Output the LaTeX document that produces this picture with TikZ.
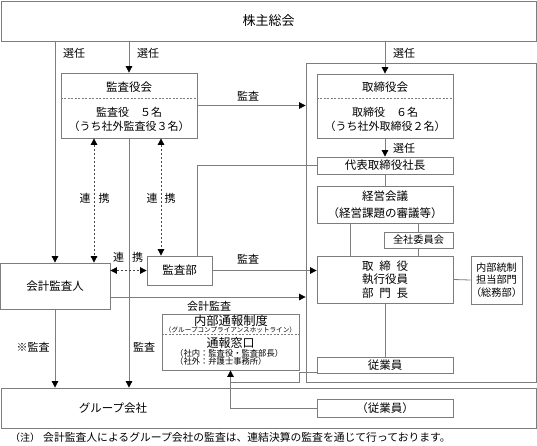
\documentclass[tikz,border=0pt]{standalone}
\usepackage{fontspec}
\setmainfont{Noto Sans CJK JP}
\usetikzlibrary{arrows.meta,calc}
\definecolor{ln}{RGB}{125,125,125}
\definecolor{dk}{RGB}{70,70,70}
\tikzset{
  box/.style={draw=ln, line width=0.8pt, rectangle, inner sep=0pt, align=center, font=\fontsize{11.5}{13.5}\selectfont},
  conn/.style={draw=ln, line width=0.8pt},
  arr/.style={conn, -{Triangle[width=6.5pt,length=6.5pt,color=black]}},
  darr/.style={draw=dk, line width=0.8pt, dash pattern=on 2pt off 2pt, {Triangle[width=6.5pt,length=6.5pt,color=black]}-{Triangle[width=6.5pt,length=6.5pt,color=black]}},
  lbl/.style={inner sep=0pt, font=\fontsize{11}{13}\selectfont},
  sepline/.style={draw=ln, line width=0.8pt, dash pattern=on 2pt off 1.5pt},
}
\begin{document}
\begin{tikzpicture}[x=1pt,y=-1pt]
\useasboundingbox (0,0) rectangle (537,445);
\fill[white] (0,0) rectangle (537,445);

% boxes
\node[box, minimum width=535, minimum height=40, font=\fontsize{13}{15}\selectfont] (sh) at (268.5,21) {株主総会};
\node[box, minimum width=230, minimum height=319] (outer) at (421,222.5) {};
\node[box, minimum width=136, minimum height=65] (kyk) at (129,105.5) {};
\node[box, minimum width=136, minimum height=64] (tk) at (385,106) {};
\node[box, minimum width=136, minimum height=17] (dai) at (385,165.5) {代表取締役社長};
\node[box, minimum width=136, minimum height=37, font=\fontsize{11.5}{17.5}\selectfont] (keiei) at (385,204.5) {経営会議\\（経営課題の審議等）};
\node[box, minimum width=69, minimum height=16, font=\fontsize{10.2}{12}\selectfont] (zensha) at (418.5,240) {全社委員会};
\node[box, minimum width=136, minimum height=47, font=\fontsize{11.5}{13.5}\selectfont] (tori) at (385,279.5) {取\kern0.5em 締\kern0.5em 役\\執行役員\\部\kern0.5em 門\kern0.5em 長};
\node[box, minimum width=49, minimum height=48, font=\fontsize{10.2}{12.7}\selectfont] (naibu) at (496.5,280) {内部統制\\担当部門\\（総務部）};
\node[box, minimum width=136, minimum height=16] (jugyo) at (385,365) {従業員};
\node[box, minimum width=110, minimum height=46] (kaikei) at (55,286) {会計監査人};
\node[box, minimum width=65, minimum height=29] (kansabu) at (179.5,270.5) {監査部};
\node[box, minimum width=137, minimum height=56] (tsuho) at (230.5,342) {};
\node[box, minimum width=535, minimum height=40] (grp) at (268.5,408) {};
\node[box, minimum width=136, minimum height=18] (jugyo2) at (385,408) {（従業員）};

% box inner texts
\draw[sepline] ($(kyk.north west)+(0,26)$) -- ($(kyk.north east)+(0,26)$);
\node[lbl, font=\fontsize{11.5}{13}\selectfont] (kykt) at (129,87) {監査役会};
\node[lbl, align=center, font=\fontsize{11}{14}\selectfont] (kykb) at (129,119.5) {監査役　５名\\（うち社外監査役３名）};
\draw[sepline] ($(tk.north west)+(0,25)$) -- ($(tk.north east)+(0,25)$);
\node[lbl, font=\fontsize{11.5}{13}\selectfont] (tkt) at (385,87) {取締役会};
\node[lbl, align=center, font=\fontsize{11}{14}\selectfont] (tkb) at (385,119) {取締役　６名\\（うち社外取締役２名）};
\node[lbl, font=\fontsize{12.3}{13}\selectfont] (t1) at (231,320.5) {内部通報制度};
\node[lbl, font=\fontsize{6.6}{7}\selectfont] (t2) at (230.5,330) {（グループコンプライアンスホットライン）};
\draw[sepline] ($(tsuho.north west)+(0,21)$) -- ($(tsuho.north east)+(0,21)$);
\node[lbl, font=\fontsize{12}{13}\selectfont] (t3) at (230.5,343) {通報窓口};
\node[lbl, anchor=west, font=\fontsize{8.3}{9}\selectfont] (t4) at (175,353) {（社内：監査役・監査部長）};
\node[lbl, anchor=west, font=\fontsize{8.3}{9}\selectfont] (t5) at (175,361.5) {（社外：弁護士事務所）};
\node[lbl, font=\fontsize{11.5}{13}\selectfont] (grpt) at (113,408) {グループ会社};

% helper coordinates
\coordinate (xa) at (94,0);
\coordinate (xb) at (161,0);
\coordinate (xc) at (197,0);
\coordinate (xd) at (350,0);
\coordinate (ya) at (0,297);
\coordinate (j1) at (299,372.5);
\coordinate (j2) at (299,382);

% connectors
\draw[arr] (kaikei.north |- sh.south) -- (kaikei.north);
\draw[arr] (kyk.north |- sh.south) -- (kyk.north);
\draw[arr] (tk.north |- sh.south) -- (tk.north);
\draw[arr] (kyk.east) -- (kyk.east -| outer.west);
\draw[arr] (tk.south) -- (dai.north);
\draw[darr] (kyk.south -| xa) -- (kaikei.north -| xa);
\draw[darr] (kyk.south -| xb) -- (kansabu.north -| xb);
\draw[arr] (kyk.south) -- (kyk.south |- grp.north);
\draw[arr] (kaikei.south) -- (kaikei.south |- grp.north);
\draw[darr] (kansabu.west -| kaikei.east) -- (kansabu.west);
\draw[arr] (kansabu.east) -- (kansabu.east -| tori.west);
\draw[conn] (kansabu.north -| xc) |- (dai.west);
\draw[arr] (kaikei.east |- ya) -- (outer.west |- ya);
\draw[conn] (dai.south) -- (keiei.north);
\draw[conn] (zensha.north |- keiei.south) -- (zensha.north);
\draw[conn] (zensha.south) -- (zensha.south |- tori.north);
\draw[conn] (keiei.south -| xd) -- (tori.north -| xd);
\draw[conn] (tori.east) -- (naibu.west);
\draw[conn] (tori.south) -- (jugyo.north);
\draw[arr] (jugyo2.west) -| (tsuho.south);
\draw[conn] (jugyo.west |- j1) -- (j1) -- (j2) -- (tsuho.south |- j2);

% labels
\node[lbl] (s1) at (74,53) {選任};
\node[lbl] (s2) at (148,53) {選任};
\node[lbl] (s3) at (404,53) {選任};
\node[lbl] (s4) at (404,148) {選任};
\node[lbl] (k1) at (248,96) {監査};
\node[lbl] (r1a) at (85,198) {連};
\node[lbl] (r1b) at (104,198) {携};
\node[lbl] (r2a) at (152,198) {連};
\node[lbl] (r2b) at (170,198) {携};
\node[lbl] (r3a) at (118.5,257) {連};
\node[lbl] (r3b) at (137.5,257) {携};
\node[lbl] (k2) at (248,259) {監査};
\node[lbl] (k3) at (209,306) {会計監査};
\node[lbl] (k4) at (33,347) {※監査};
\node[lbl] (k5) at (144,347) {監査};
\node[lbl, font=\fontsize{10}{12}\selectfont] (note1) at (25,437.5) {（注）};
\node[lbl, anchor=west, font=\fontsize{10.8}{12}\selectfont] (note2) at (43,437.5) {会計監査人によるグループ会社の監査は、連結決算の監査を通じて行っております。};
\end{tikzpicture}
\end{document}
